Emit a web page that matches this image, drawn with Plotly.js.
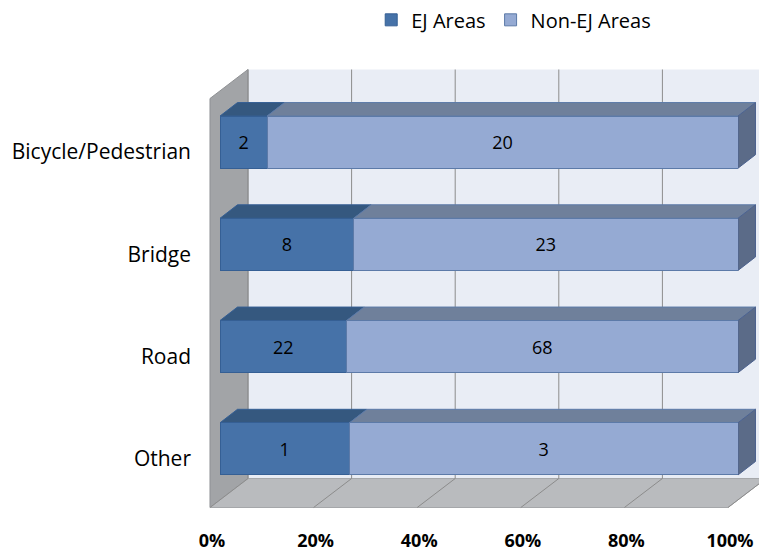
<!DOCTYPE html>
<html>
<head>
<meta charset="utf-8">
<script src="https://cdn.plot.ly/plotly-3.0.1.min.js"></script>
<style>html,body{margin:0;padding:0;background:#fff;}#chart{width:759px;height:554px;}</style>
</head>
<body>
<div id="chart"></div>
<script>
// ---- data ----
const categories = ["Bicycle/Pedestrian", "Bridge", "Road", "Other"];
const ejAreas = [2, 8, 22, 1];
const nonEjAreas = [20, 23, 68, 3];
const seriesNames = ["EJ Areas", "Non-EJ Areas"];
const xTickVals = [0, 20, 40, 60, 80, 100];
const xTickText = ["0%", "20%", "40%", "60%", "80%", "100%"];

// ---- layout geometry ----
const W = 759, H = 554;
const M = {l: 220, r: 21, t: 91, b: 54, autoexpand: false};
const PW = W - M.l - M.r, PH = H - M.t - M.b;
const xRange = [0, 100];
const yRange = [categories.length - 0.5, -0.5];
const barWidth = 0.51;
const FONT = "'Open Sans', 'Noto Sans', sans-serif";

// data -> pixel, pixel -> paper
const xPx = v => M.l + (v - xRange[0]) / (xRange[1] - xRange[0]) * PW;
const yPx = v => M.t + (v - yRange[1]) / (yRange[0] - yRange[1]) * PH;
const pxX = p => (p - M.l) / PW;
const pxY = p => (M.t + PH - p) / PH;
function poly(points, fill, line, lw) {
  const d = points.map((p, i) => (i ? 'L' : 'M') + pxX(p[0]).toFixed(5) + ',' + pxY(p[1]).toFixed(5)).join(' ') + ' Z';
  return {type: 'path', xref: 'paper', yref: 'paper', path: d, fillcolor: fill,
          line: {color: line || fill, width: lw === undefined ? 1 : lw}, layer: 'below'};
}
function seg(a, b, color, w, layer) {
  return {type: 'line', xref: 'paper', yref: 'paper', x0: pxX(a[0]), y0: pxY(a[1]), x1: pxX(b[0]), y1: pxY(b[1]),
          line: {color: color, width: w || 1}, layer: layer || 'below'};
}

// depth offsets (pixels) relative to bar front plane
const floorFront = [-10, 7.5];
const backWall = [28, -21.5];
const barBack = [17.5, -13.5];

const shapes = [];
const X0 = xPx(0), X1 = xPx(100), Ytop = yPx(yRange[1]), Ybot = yPx(yRange[0]);
// back wall
shapes.push(poly([[X0 + backWall[0], Ytop + backWall[1]], [X1 + backWall[0], Ytop + backWall[1]],
                  [X1 + backWall[0], Ybot + backWall[1]], [X0 + backWall[0], Ybot + backWall[1]]], '#e9edf5', '#e9edf5', 0));
// left wall
shapes.push(poly([[X0 + floorFront[0], Ytop + floorFront[1]], [X0 + backWall[0], Ytop + backWall[1]],
                  [X0 + backWall[0], Ybot + backWall[1]], [X0 + floorFront[0], Ybot + floorFront[1]]], '#a2a4a7', '#8f9194', 1));
// floor
shapes.push(poly([[X0 + floorFront[0], Ybot + floorFront[1]], [X0 + backWall[0], Ybot + backWall[1]],
                  [X1 + backWall[0], Ybot + backWall[1]], [X1 + floorFront[0], Ybot + floorFront[1]]], '#b9bbbe', '#a5a7aa', 1));
// gridlines on back wall and floor
xTickVals.forEach(v => {
  const px = xPx(v);
  shapes.push(seg([px + backWall[0], Ytop + backWall[1]], [px + backWall[0], Ybot + backWall[1]], '#8c8c8c', 1));
  shapes.push(seg([px + backWall[0], Ybot + backWall[1]], [px + floorFront[0], Ybot + floorFront[1]], '#8c8c8c', 1));
});

// 3D faces of bars
const frontColors = ['#4672a8', '#95aad3'];
const topColors = ['#35587f', '#6f809b'];
const edgeColors = ['#355f94', '#5c7aa8'];
const sideColor = '#5b6b88';
categories.forEach((c, i) => {
  const total = ejAreas[i] + nonEjAreas[i];
  const parts = [ejAreas[i] / total * 100, nonEjAreas[i] / total * 100];
  const yT = yPx(i - barWidth / 2), yB = yPx(i + barWidth / 2);
  let start = 0;
  parts.forEach((p, k) => {
    const xs = xPx(start), xe = xPx(start + p);
    shapes.push(poly([[xs, yT], [xe, yT], [xe + barBack[0], yT + barBack[1]], [xs + barBack[0], yT + barBack[1]]],
                     topColors[k], edgeColors[k], 1));
    start += p;
  });
  const xe = xPx(100);
  shapes.push(poly([[xe, yT], [xe + barBack[0], yT + barBack[1]], [xe + barBack[0], yB + barBack[1]], [xe, yB]],
                   sideColor, '#4d6390', 1));
});

const yIdx = categories.map((_, i) => i);
const traces = [ejAreas, nonEjAreas].map((vals, k) => ({
  type: 'bar', orientation: 'h', name: seriesNames[k],
  y: yIdx, x: vals, text: vals.map(String),
  textposition: 'inside', insidetextanchor: 'middle', textangle: 0,
  textfont: {family: FONT, size: 18, color: '#000'},
  marker: {color: frontColors[k], line: {color: edgeColors[k], width: 1}},
  width: barWidth, hoverinfo: 'skip'
}));

const layout = {
  width: W, height: H, margin: M,
  paper_bgcolor: '#fff', plot_bgcolor: 'rgba(0,0,0,0)',
  barmode: 'stack', barnorm: 'percent', showlegend: true,
  font: {family: FONT, color: '#000'},
  legend: {orientation: 'h', x: 0.567, xanchor: 'center', y: 1.174, yanchor: 'middle',
           font: {family: FONT, size: 20, color: '#000'}, traceorder: 'normal', itemwidth: 30},
  xaxis: {range: xRange, tickvals: xTickVals, ticktext: xTickText, showgrid: false, zeroline: false,
          showline: false, ticks: '', ticklabelstandoff: 28, ticklabelshift: -8, automargin: false,
          tickfont: {family: FONT, size: 18, color: '#000', weight: 'bold'}, fixedrange: true},
  yaxis: {range: yRange, tickvals: yIdx, ticktext: categories, showgrid: false, zeroline: false,
          showline: false, ticks: '', ticklabelstandoff: 28, ticklabelshift: -10, automargin: false,
          tickfont: {family: FONT, size: 21, color: '#000'}, fixedrange: true},
  shapes: shapes
};
Plotly.newPlot('chart', traces, layout, {staticPlot: true, displayModeBar: false});
</script>
</body>
</html>
